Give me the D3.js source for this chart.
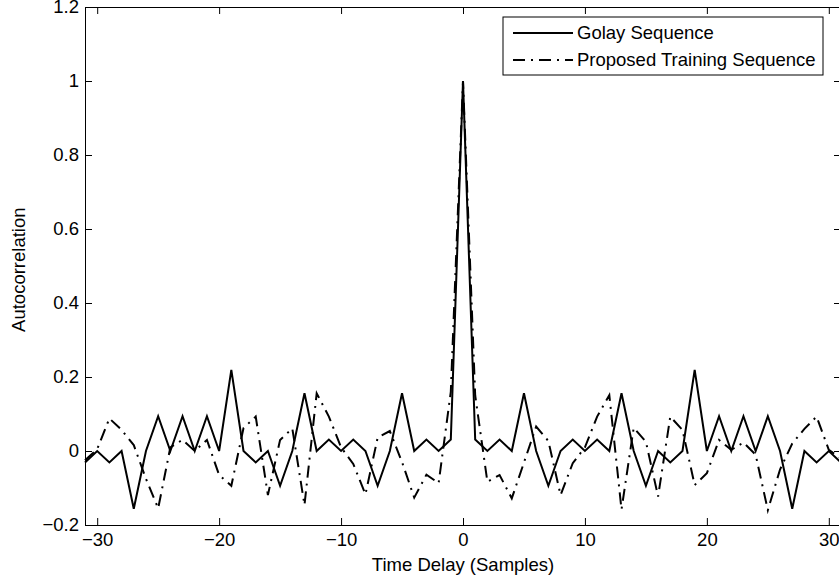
<!DOCTYPE html>
<html>
<head>
<meta charset="utf-8">
<script src="https://cdn.jsdelivr.net/npm/d3@7"></script>
<style>
  html, body { margin: 0; padding: 0; background: #fff; }
  svg { display: block; }
  text { font-family: "Liberation Sans", Arial, Helvetica, sans-serif; fill: #000; }
</style>
</head>
<body>
<svg id="chart" width="839" height="583"></svg>
<script>
// ---- data ----
const lags = d3.range(-31, 32);
const golay = [
  -0.031, 0, -0.031, 0, -0.156, 0, 0.094, 0, 0.094, 0, 0.094, 0, 0.219, 0, -0.031, 0,
  -0.094, 0, 0.156, 0, 0.031, 0, 0.031, 0, -0.094, 0, 0.156, 0, 0.031, 0, 0.031,
  1.0,
  0.031, 0, 0.031, 0, 0.156, 0, -0.094, 0, 0.031, 0, 0.031, 0, 0.156, 0, -0.094, 0,
  -0.031, 0, 0.219, 0, 0.094, 0, 0.094, 0, 0.094, 0, -0.156, 0, -0.031, 0, -0.031
];
const proposed = [
  -0.025, 0.005, 0.088, 0.057, 0.016, -0.075, -0.155, 0.01, 0.03, 0.0, 0.03, -0.065,
  -0.094, 0.062, 0.093, -0.119, 0.03, 0.061, -0.146, 0.156, 0.093, 0.01, -0.035, -0.117,
  0.036, 0.054, -0.03, -0.126, -0.064, -0.087, 0.16,
  1.0,
  0.15, -0.083, -0.065, -0.128, -0.031, 0.066, 0.027, -0.119, -0.033, 0.01, 0.093, 0.151,
  -0.158, 0.063, 0.025, -0.123, 0.093, 0.057, -0.092, -0.06, 0.03, 0.003, 0.023, -0.01,
  -0.16, -0.05, 0.02, 0.06, 0.093, 0.003, -0.02
];
const xTicks = [-30, -20, -10, 0, 10, 20, 30];
const yTicks = [-0.2, 0, 0.2, 0.4, 0.6, 0.8, 1, 1.2];
const seriesNames = ["Golay Sequence", "Proposed Training Sequence"];
const xLabel = "Time Delay (Samples)";
const yLabel = "Autocorrelation";

// ---- layout ----
const svg = d3.select("#chart");
const pL = 85, pR = 841, pT = 7, pB = 525;
const x = d3.scaleLinear().domain([-31, 31]).range([pL, pR]);
const y = d3.scaleLinear().domain([-0.2, 1.2]).range([pB, pT]);
const fmt = v => (v < 0 ? "\u2212" : "") + String(Math.abs(+v.toFixed(1)));
const fs = 18.5;

function styleAxis(g) {
  g.select(".domain").attr("stroke", "#000").attr("stroke-width", 1);
  g.selectAll(".tick line").attr("stroke", "#000").attr("stroke-width", 1);
  g.selectAll(".tick text").attr("font-size", fs).attr("font-family", "Liberation Sans, Arial, sans-serif").attr("fill", "#000");
}
svg.append("g").attr("transform", `translate(0,${pB})`)
  .call(d3.axisBottom(x).tickValues(xTicks).tickFormat(fmt).tickSize(-7).tickSizeOuter(0).tickPadding(8))
  .call(styleAxis);
svg.append("g").attr("transform", `translate(0,${pT})`)
  .call(d3.axisTop(x).tickValues(xTicks).tickFormat("").tickSize(-7).tickSizeOuter(0))
  .call(styleAxis);
svg.append("g").attr("transform", `translate(${pL},0)`)
  .call(d3.axisLeft(y).tickValues(yTicks).tickFormat(fmt).tickSize(-7).tickSizeOuter(0).tickPadding(6))
  .call(styleAxis);
svg.append("g").attr("transform", `translate(${pR},0)`)
  .call(d3.axisRight(y).tickValues(yTicks).tickFormat("").tickSize(-7).tickSizeOuter(0))
  .call(styleAxis);

const line = d3.line().x((d, i) => x(lags[i])).y(d => y(d));
svg.append("path").datum(golay).attr("d", line)
  .attr("fill", "none").attr("stroke", "#000").attr("stroke-width", 2).attr("stroke-linejoin", "miter");
svg.append("path").datum(proposed).attr("d", line)
  .attr("fill", "none").attr("stroke", "#000").attr("stroke-width", 2)
  .attr("stroke-dasharray", "12,6,2,6");

svg.append("text").attr("x", x(0)).attr("y", 571).attr("text-anchor", "middle")
  .attr("font-size", fs).text(xLabel);
svg.append("text").attr("transform", `translate(25,${y(0.49)}) rotate(-90)`)
  .attr("text-anchor", "middle").attr("font-size", fs).text(yLabel);

const lg = svg.append("g");
lg.append("rect").attr("x", 503).attr("y", 17).attr("width", 320).attr("height", 58)
  .attr("fill", "#fff").attr("stroke", "#000").attr("stroke-width", 1);
const dashes = [null, "12,6,2,6"];
seriesNames.forEach((name, i) => {
  const ly = 33 + i * 27;
  const l = lg.append("line").attr("x1", 513).attr("x2", 573).attr("y1", ly).attr("y2", ly)
    .attr("stroke", "#000").attr("stroke-width", 2);
  if (dashes[i]) l.attr("stroke-dasharray", dashes[i]);
  lg.append("text").attr("x", 577).attr("y", ly).attr("dy", "0.35em")
    .attr("font-size", fs).text(name);
});
</script>
</body>
</html>
